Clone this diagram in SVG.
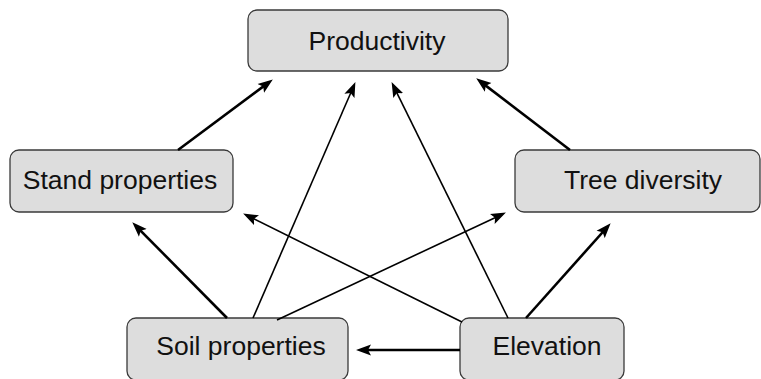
<svg xmlns="http://www.w3.org/2000/svg" width="761" height="379" viewBox="0 0 761 379">
  <style>
    .box { fill: #dddddd; stroke: #3a3a3a; stroke-width: 1.3; }
    .lbl { font-family: "Liberation Sans", Arial, sans-serif; font-size: 26.5px; fill: #111; text-anchor: middle; }
    .thick { stroke: #000; stroke-width: 2.6; fill: none; marker-end: url(#ah); }
    .thin { stroke: #000; stroke-width: 1.6; fill: none; marker-end: url(#ah); }
  </style>
  <defs>
    <marker id="ah" markerUnits="userSpaceOnUse" markerWidth="16" markerHeight="12" viewBox="0 0 16 12" refX="10" refY="6" orient="auto">
      <path d="M0,0.5 L15,6 L0,11.5 L3,6 z" fill="#000"/>
    </marker>
  </defs>
  <rect width="761" height="379" fill="#fff"/>
  <g id="productivity">
    <rect class="box" x="248" y="10" width="260" height="61" rx="9"/>
    <text class="lbl" x="377" y="50">Productivity</text>
  </g>
  <g id="stand-properties">
    <rect class="box" x="10" y="150" width="223" height="62" rx="9"/>
    <text class="lbl" x="120" y="189">Stand properties</text>
  </g>
  <g id="tree-diversity">
    <rect class="box" x="515" y="150" width="245" height="62" rx="9"/>
    <text class="lbl" x="643" y="189">Tree diversity</text>
  </g>
  <g id="soil-properties">
    <rect class="box" x="127" y="318" width="221" height="62" rx="9"/>
    <text class="lbl" x="241" y="355">Soil properties</text>
  </g>
  <g id="elevation">
    <rect class="box" x="460" y="318" width="164" height="62" rx="9"/>
    <text class="lbl" x="547" y="355">Elevation</text>
  </g>
  <g id="connectors">
    <line class="thick" x1="178" y1="150" x2="268.8" y2="82.4"/>
    <line class="thick" x1="570" y1="150" x2="480.2" y2="81.4"/>
    <line class="thin" x1="253" y1="318" x2="353.4" y2="86.7"/>
    <line class="thin" x1="508" y1="318" x2="393.8" y2="86.6"/>
    <line class="thick" x1="227" y1="318" x2="135.8" y2="225.8"/>
    <line class="thin" x1="462" y1="322" x2="247.6" y2="215.8"/>
    <line class="thin" x1="277" y1="320" x2="501.4" y2="214.7"/>
    <line class="thick" x1="526" y1="318" x2="607.3" y2="227"/>
    <line class="thick" x1="460" y1="350" x2="361" y2="350"/>
  </g>
</svg>
